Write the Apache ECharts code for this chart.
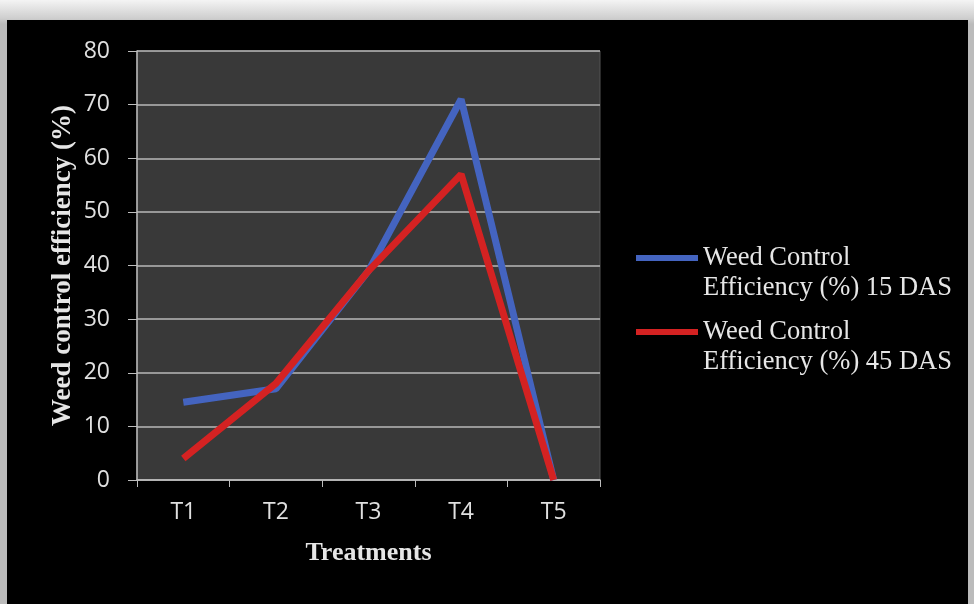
<!DOCTYPE html>
<html>
<head>
<meta charset="utf-8">
<script src="https://cdn.jsdelivr.net/npm/echarts@6/dist/echarts.min.js"></script>
<style>
html,body{margin:0;padding:0;width:974px;height:604px;overflow:hidden;background:#d8d8d8;}
#wrap{position:absolute;left:0;top:0;width:974px;height:604px;background:linear-gradient(#f4f4f4,#cfcfcf 18px,#bbb 24px);}
#chart{position:absolute;left:7px;top:20px;width:961px;height:584px;background:#000;}
</style>
</head>
<body>
<div id="wrap"></div>
<div id="chart"></div>
<script>
const categories = ['T1','T2','T3','T4','T5'];
const das15 = [14.5, 17, 39, 71, 0];
const das45 = [4, 18, 39, 57, 0];
const seriesNames = ['Weed Control\nEfficiency (%) 15 DAS', 'Weed Control\nEfficiency (%) 45 DAS'];
const yTicks = {min: 0, max: 80, interval: 10};

const chart = echarts.init(document.getElementById('chart'));
const serif = 'Liberation Serif';
// legend icon: a bar aligned with the first text line inside a 62x60 box
const legendIcon = 'path://M0,0 L0.01,0 L0,0.01 Z M0,12 L62,12 L62,18 L0,18 Z M61.99,60 L62,60 L62,59.99 Z';
chart.setOption({
  backgroundColor: '#000',
  animation: false,
  grid: {left: 130, top: 31, right: 368, bottom: 124, show: true, backgroundColor: '#393939', borderColor: '#555', borderWidth: 1},
  legend: {
    orient: 'vertical', left: 624, top: 218,
    itemWidth: 62, itemHeight: 60, itemGap: 14,
    icon: legendIcon,
    textStyle: {color: '#e6e6e6', fontFamily: serif, fontSize: 26.5, lineHeight: 30},
    data: seriesNames
  },
  xAxis: {
    type: 'category', data: categories, boundaryGap: true,
    axisLine: {lineStyle: {color: '#bdbdbd', width: 1.5}},
    axisTick: {show: true, length: 7, lineStyle: {color: '#bdbdbd'}},
    axisLabel: {color: '#e0e0e0', fontFamily: 'Open Sans', fontSize: 23, margin: 21},
    name: 'Treatments', nameLocation: 'middle', nameGap: 60,
    nameTextStyle: {color: '#e6e6e6', fontFamily: serif, fontWeight: 'bold', fontSize: 26}
  },
  yAxis: {
    type: 'value', min: yTicks.min, max: yTicks.max, interval: yTicks.interval,
    axisLine: {show: true, lineStyle: {color: '#bdbdbd', width: 1.5}},
    axisTick: {show: true, length: 9, lineStyle: {color: '#bdbdbd'}},
    splitLine: {lineStyle: {color: '#b8b8b8', width: 1.5}},
    axisLabel: {color: '#e0e0e0', fontFamily: 'Open Sans', fontSize: 23, margin: 27},
    name: 'Weed control efficiency (%)', nameLocation: 'middle', nameGap: 60, nameRotate: 90,
    nameTextStyle: {color: '#e6e6e6', fontFamily: serif, fontWeight: 'bold', fontSize: 27}
  },
  series: [
    {name: seriesNames[0], type: 'line', data: das15, showSymbol: false, symbol: 'none',
     lineStyle: {color: '#4464c0', width: 7}, itemStyle: {color: '#4464c0'}},
    {name: seriesNames[1], type: 'line', data: das45, showSymbol: false, symbol: 'none',
     lineStyle: {color: '#d42222', width: 7}, itemStyle: {color: '#d42222'}}
  ]
});
</script>
</body>
</html>
